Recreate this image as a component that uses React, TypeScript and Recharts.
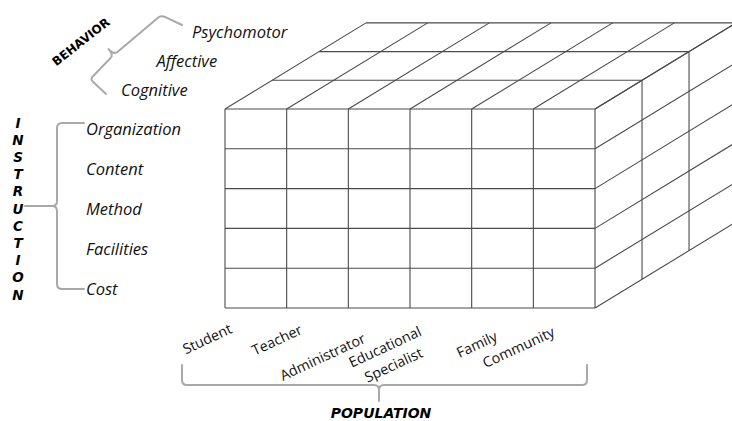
import React from 'react';
import { ComposedChart, XAxis, YAxis, ReferenceLine, ReferenceDot } from 'recharts';

// ---------------- data (categories of the cube) ----------------
const populations: string[] = ['Student', 'Teacher', 'Administrator', 'Educational\nSpecialist', 'Family', 'Community'];
const instructions: string[] = ['Organization', 'Content', 'Method', 'Facilities', 'Cost'];
const behaviors: string[] = ['Cognitive', 'Affective', 'Psychomotor'];
const instructionTitle = 'INSTRUCTION';
const behaviorTitle = 'BEHAVIOR';
const populationTitle = 'POPULATION';

// ---------------- layout / style ----------------
const W = 732;
const H = 421;
const ORIGIN_X = 225; // px of front-top-left corner
const ORIGIN_Y = 109;
const COL_W = 61.67; // px per column
const ROW_H = 39.8; // px per row
const DEPTH_DX = 47 / COL_W; // oblique depth offset (cube units)
const DEPTH_DY = -28.7 / ROW_H;
const ux = (px: number) => (px - ORIGIN_X) / COL_W;
const uy = (py: number) => (py - ORIGIN_Y) / ROW_H;

const LINE = '#4a4a4a';
const BRACE = '#a9a9a9';
const TEXT = '#111';
const LABEL_FONT = "'Open Sans', 'Liberation Sans', sans-serif";
const TITLE_FONT = "'DejaVu Sans', 'Liberation Sans', sans-serif";

// population label nudges (px, relative to column centre / cube bottom)
const POP_NUDGE: [number, number][] = [[-49, 30], [-41, 31], [-57, 48], [-52, 47], [-26, 35.5], [-46, 38.5]];
const POP_ANGLE = -25;

type Pt = { x: number; y: number };
const P = (c: number, r: number, d: number): Pt => ({ x: c + d * DEPTH_DX, y: r + d * DEPTH_DY });

function buildSegments(nC: number, nR: number, nD: number): [Pt, Pt][] {
  const s: [Pt, Pt][] = [];
  // front face
  for (let c = 0; c <= nC; c++) s.push([P(c, 0, 0), P(c, nR, 0)]);
  for (let r = 0; r <= nR; r++) s.push([P(0, r, 0), P(nC, r, 0)]);
  // top face
  for (let c = 0; c <= nC; c++) s.push([P(c, 0, 0), P(c, 0, nD)]);
  for (let d = 1; d <= nD; d++) s.push([P(0, 0, d), P(nC, 0, d)]);
  // right face
  for (let r = 0; r <= nR; r++) s.push([P(nC, r, 0), P(nC, r, nD)]);
  for (let d = 1; d <= nD; d++) s.push([P(nC, 0, d), P(nC, nR, d)]);
  return s;
}

const italicLabel = (text: string, anchor: 'start' | 'middle' = 'start') => (p: any) => (
  <text x={p.cx} y={p.cy} textAnchor={anchor} dominantBaseline="central" fontFamily={LABEL_FONT}
    fontStyle="italic" fontSize={16.5} fill={TEXT}>{text}</text>
);

const popLabel = (text: string) => (p: any) => {
  const lines = text.split('\n');
  const lh = 20;
  return (
    <text x={p.cx} y={p.cy} transform={`rotate(${POP_ANGLE} ${p.cx} ${p.cy})`} textAnchor="middle"
      dominantBaseline="central" fontFamily={LABEL_FONT} fontSize={14.3} fill={TEXT}>
      {lines.map((l, i) => (
        <tspan key={i} x={p.cx} y={p.cy + (i - (lines.length - 1) / 2) * lh}>{l}</tspan>
      ))}
    </text>
  );
};

const verticalTitle = (text: string, spacing: number) => (p: any) => {
  const chars = text.split('');
  const mid = (chars.length - 1) / 2;
  return (
    <text textAnchor="middle" dominantBaseline="central" fontFamily={TITLE_FONT} fontWeight="bold"
      fontStyle="italic" fontSize={13.5} fill="#000">
      {chars.map((ch, i) => (
        <tspan key={i} x={p.cx} y={p.cy + (i - mid) * spacing}>{ch}</tspan>
      ))}
    </text>
  );
};

const titleText = (text: string, size: number, angle: number) => (p: any) => (
  <text x={p.cx} y={p.cy} transform={`rotate(${angle} ${p.cx} ${p.cy})`} textAnchor="middle"
    dominantBaseline="central" fontFamily={TITLE_FONT} fontWeight="bold" fontStyle={angle === 0 ? 'italic' : 'normal'}
    fontSize={size} fill="#000">{text}</text>
);

const bracePath = (d: string) => (p: any) => (
  <path d={d} transform={`translate(${p.cx} ${p.cy})`} fill="none" stroke={BRACE} strokeWidth={2}
    strokeLinecap="round" strokeLinejoin="round" />
);

// brace outlines relative to their tip junction (px)
const INSTR_BRACE = 'M27,-83 L5,-83 Q0,-83 0,-78 L0,-5 Q0,0 -5,0 L-32,0 M-5,0 Q0,0 0,5 L0,78 Q0,83 5,83 L27,83';
const BEHAV_BRACE = 'M68,-30 L52,-37.6 Q47,-40 44,-37.3 L3.7,-3.3 Q0,0 -5.4,-5.9 Q0,0 -3.7,3.3 L-21,21.3 Q-24,24 -21.1,26.7 L-8,39';
const POP_BRACE = 'M-197,-20 L-197,-5 Q-197,0 -192,0 L-5,0 Q0,0 0,5 L0,16 M0,5 Q0,0 5,0 L203,0 Q208,0 208,-5 L208,-20';

export default function App() {
  const nC = populations.length;
  const nR = instructions.length;
  const nD = behaviors.length;
  const segs = buildSegments(nC, nR, nD);

  return (
    <div style={{ position: 'absolute', left: 0, top: 0, width: W, height: H, background: '#fff' }}>
      <ComposedChart width={W} height={H} margin={{ top: 0, right: 0, bottom: 0, left: 0 }}
        data={[P(0, 0, 0), P(nC, nR, 0)]}>
        <XAxis type="number" dataKey="x" domain={[ux(0), ux(W)]} hide allowDataOverflow />
        <YAxis type="number" dataKey="y" domain={[uy(0), uy(H)]} reversed hide allowDataOverflow />

        {segs.map((s, i) => (
          <ReferenceLine key={`seg-${i}`} segment={s} stroke={LINE} strokeWidth={1.1} ifOverflow="visible" />
        ))}

        {/* braces */}
        <ReferenceDot x={ux(57)} y={nR / 2 - 0.06} r={0} ifOverflow="visible" shape={bracePath(INSTR_BRACE)} />
        <ReferenceDot x={ux(114)} y={uy(55)} r={0} ifOverflow="visible" shape={bracePath(BEHAV_BRACE)} />
        <ReferenceDot x={ux(379)} y={uy(385)} r={0} ifOverflow="visible" shape={bracePath(POP_BRACE)} />

        {/* instruction labels */}
        {instructions.map((name, r) => (
          <ReferenceDot key={`in-${name}`} x={ux(86)} y={r + 0.5} r={0} ifOverflow="visible" shape={italicLabel(name)} />
        ))}

        {/* behavior labels */}
        {behaviors.map((name, d) => (
          <ReferenceDot key={`bh-${name}`} x={ux(121 + d * 35.5)} y={uy(89 - d * 29)} r={0} ifOverflow="visible"
            shape={italicLabel(name)} />
        ))}

        {/* population labels */}
        {populations.map((name, c) => (
          <ReferenceDot key={`pop-${c}`} x={c + 0.5 + POP_NUDGE[c][0] / COL_W} y={nR + POP_NUDGE[c][1] / ROW_H} r={0}
            ifOverflow="visible" shape={popLabel(name)} />
        ))}

        {/* titles */}
        <ReferenceDot x={ux(18)} y={nR / 2} r={0} ifOverflow="visible" shape={verticalTitle(instructionTitle, 17.2)} />
        <ReferenceDot x={ux(81)} y={uy(42)} r={0} ifOverflow="visible" shape={titleText(behaviorTitle, 12, -38)} />
        <ReferenceDot x={ux(381)} y={uy(413)} r={0} ifOverflow="visible" shape={titleText(populationTitle, 14, 0)} />
      </ComposedChart>
    </div>
  );
}
